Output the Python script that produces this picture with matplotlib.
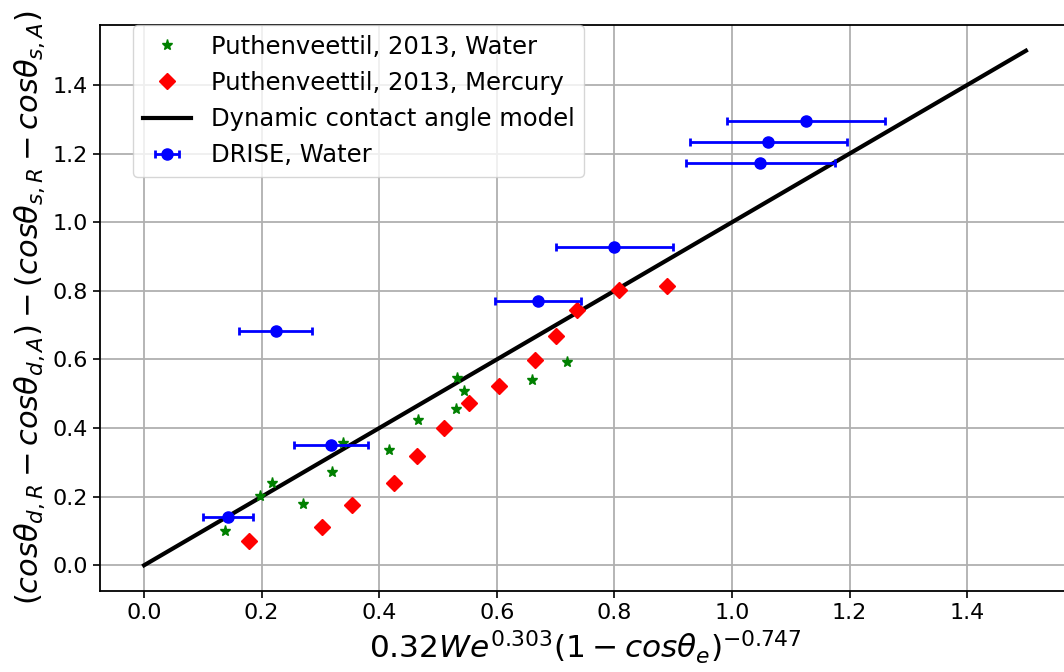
import matplotlib
matplotlib.use("Agg")
import matplotlib.pyplot as plt
import numpy as np

# Puthenveettil 2013, water
water_x = [0.137, 0.198, 0.218, 0.271, 0.320, 0.339, 0.417, 0.466, 0.530, 0.532, 0.545, 0.660, 0.719]
water_y = [0.099, 0.203, 0.239, 0.180, 0.273, 0.355, 0.336, 0.424, 0.456, 0.545, 0.507, 0.541, 0.593]

# Puthenveettil 2013, mercury
merc_x = [0.178, 0.302, 0.353, 0.425, 0.465, 0.511, 0.553, 0.604, 0.665, 0.700, 0.736, 0.807, 0.889]
merc_y = [0.071, 0.112, 0.175, 0.240, 0.319, 0.400, 0.473, 0.523, 0.597, 0.669, 0.743, 0.802, 0.813]

# DRISE, water
drise_x = [0.143, 0.318, 0.224, 0.670, 0.800, 1.048, 1.062, 1.126]
drise_y = [0.141, 0.350, 0.684, 0.769, 0.928, 1.172, 1.234, 1.295]
drise_xerr = [0.043, 0.063, 0.062, 0.073, 0.100, 0.127, 0.133, 0.134]

# model line
model_x = [0.0, 1.5]
model_y = [0.0, 1.5]

ticks = [0.0, 0.2, 0.4, 0.6, 0.8, 1.0, 1.2, 1.4]

fig = plt.figure(figsize=(10.64, 6.72), dpi=100)
W, H = 1064, 672
left, right, top, bottom = 100, 1070, 25, 591
ax = fig.add_axes([left / W, (H - bottom) / H, (right - left) / W, (bottom - top) / H])

ax.plot(water_x, water_y, linestyle='none', marker='*', color='green', markersize=8,
        label='Puthenveettil, 2013, Water', zorder=3)
ax.plot(merc_x, merc_y, linestyle='none', marker='D', color='red', markersize=8.5,
        label='Puthenveettil, 2013, Mercury', zorder=3)
ax.plot(model_x, model_y, color='black', linewidth=3, label='Dynamic contact angle model', zorder=2)
ax.errorbar(drise_x, drise_y, xerr=drise_xerr, fmt='o', color='blue', markersize=8,
            elinewidth=2, capsize=3, capthick=2, label='DRISE, Water', zorder=4)

ax.set_xlim(-0.075, 1.575)
ax.set_ylim(-0.075, 1.575)
ax.set_xticks(ticks)
ax.set_yticks(ticks)
ax.set_xticklabels([f"{t:.1f}" for t in ticks])
ax.set_yticklabels([f"{t:.1f}" for t in ticks])
ax.tick_params(labelsize=16, width=1.2, length=5)
ax.grid(True, color='#b0b0b0', linewidth=1.3)
ax.set_axisbelow(True)
for s in ax.spines.values():
    s.set_linewidth(1.3)

ax.set_xlabel(r'$0.32We^{0.303}(1-cos\theta_e)^{-0.747}$', fontsize=22.5)
ax.set_ylabel(r'$(cos\theta_{d,R}-cos\theta_{d,A})-(cos\theta_{s,R}-cos\theta_{s,A})$', fontsize=22)

ax.legend(loc='upper left', bbox_to_anchor=(33 / (right - left), 1.0), borderaxespad=0,
          fontsize=17.5, numpoints=1, handlelength=2.0)

fig.savefig('out.png', dpi=100)
